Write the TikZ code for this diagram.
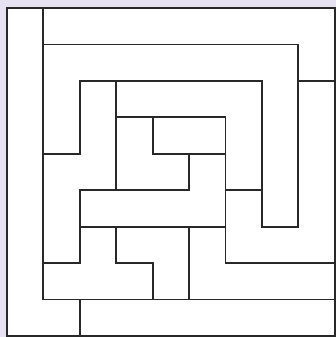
\documentclass[tikz,border=0pt]{standalone}
\usepackage{tikz}
\definecolor{lavenderbg}{RGB}{230,226,242}
\definecolor{walldark}{RGB}{40,40,40}

\begin{document}
\begin{tikzpicture}[
    mazeFrame/.style={draw=walldark, fill=white, line width=1.5pt},
    mazeWall/.style={draw=walldark, line width=1.4pt, line cap=rect}
]
    \fill [lavenderbg] (-0.19,-0.03) rectangle (9.03,9.22);
    \useasboundingbox (-0.19,-0.03) rectangle (9.03,9.22);
    \path [mazeFrame] (0,0) rectangle (9,9);

    \path [mazeWall] (1,9) -- (1,1) -- (9,1);
    \path [mazeWall] (1,8) -- (8,8) -- (8,3) -- (7,3) -- (7,7);
    \path [mazeWall] (8,7) -- (9,7);
    \path [mazeWall] (1,5) -- (2,5) -- (2,7) -- (7,7);
    \path [mazeWall] (3,7) -- (3,4);
    \path [mazeWall] (3,6) -- (6,6) -- (6,2) -- (9,2);
    \path [mazeWall] (4,6) -- (4,5) -- (6,5);
    \path [mazeWall] (5,5) -- (5,4) -- (2,4) -- (2,2) -- (1,2);
    \path [mazeWall] (6,4) -- (7,4);
    \path [mazeWall] (2,3) -- (6,3);
    \path [mazeWall] (3,3) -- (3,2) -- (4,2) -- (4,1);
    \path [mazeWall] (5,3) -- (5,1);
    \path [mazeWall] (2,1) -- (2,0);
\end{tikzpicture}
\end{document}
